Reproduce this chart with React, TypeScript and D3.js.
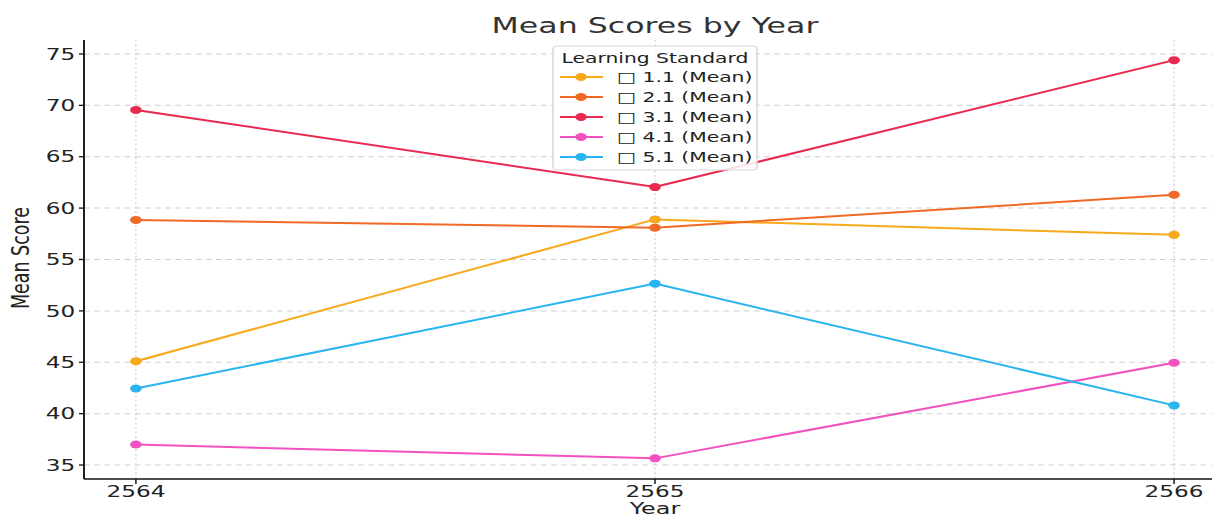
import React from 'react';
import * as d3 from 'd3';

// years on the x axis
const years = [2564, 2565, 2566];

const seriesNames = ['1.1', '2.1', '3.1', '4.1', '5.1'];
const seriesColors = ['#f7a81b', '#f06a25', '#e92a4f', '#f252c0', '#2bb5f0'];

// mean score per series, per year
const mean11 = [45.1, 58.9, 57.4];
const mean21 = [58.85, 58.1, 61.3];
const mean31 = [69.55, 62.05, 74.4];
const mean41 = [37.0, 35.65, 44.95];
const mean51 = [42.45, 52.65, 40.8];
const seriesValues = [mean11, mean21, mean31, mean41, mean51];

const yTicks = [35, 40, 45, 50, 55, 60, 65, 70, 75];

// the picture is horizontally stretched, so draw in a narrower space and stretch it
const SX = 1.45;
const W = 1212 / SX;
const H = 518;
const FONT = 'DejaVu Sans, sans-serif';

const App: React.FC = () => {
  const margin = { left: 84 / SX, top: 40, bottom: 479 };

  const x = d3.scaleLinear().domain([2563.9, 2566.1]).range([margin.left, 1226 / SX]);
  const y = d3.scaleLinear().domain([33.64, 76.36]).range([margin.bottom, margin.top]);

  const line = d3.line<number>()
    .x((d, i) => x(years[i]))
    .y(d => y(d));

  const legendX = 553 / SX;
  const legendW = (757 - 553) / SX;

  return (
    <div style={{ position: 'absolute', left: 0, top: 0 }}>
      <svg width={1212} height={H} viewBox={`0 0 ${W} ${H}`} preserveAspectRatio="none"
        style={{ display: 'block', background: '#fff' }} fontFamily={FONT}>
        {/* grid */}
        {yTicks.map(t => (
          <line key={'gy' + t} x1={margin.left} x2={W} y1={y(t)} y2={y(t)}
            stroke="#cfcfcf" strokeWidth={1} strokeDasharray="4,3" />
        ))}
        {years.map(t => (
          <line key={'gx' + t} x1={x(t)} x2={x(t)} y1={margin.top} y2={margin.bottom}
            stroke="#cfcfcf" strokeWidth={0.8} strokeDasharray="2,2.5" />
        ))}

        {/* series */}
        {seriesValues.map((vals, si) => (
          <g key={'s' + si}>
            <path d={line(vals) || ''} fill="none" stroke={seriesColors[si]} strokeWidth={2} />
            {vals.map((v, i) => (
              <circle key={i} cx={x(years[i])} cy={y(v)} r={4} fill={seriesColors[si]} />
            ))}
          </g>
        ))}

        {/* axes */}
        <line x1={margin.left} x2={margin.left} y1={margin.top} y2={margin.bottom} stroke="#111" strokeWidth={1.3} />
        <line x1={margin.left} x2={W} y1={margin.bottom} y2={margin.bottom} stroke="#111" strokeWidth={1.6} />
        {yTicks.map(t => (
          <g key={'ty' + t}>
            <line x1={margin.left - 3.5} x2={margin.left} y1={y(t)} y2={y(t)} stroke="#111" strokeWidth={1.3} />
            <text x={margin.left - 6} y={y(t)} dy="0.36em" textAnchor="end" fontSize={16} fill="#222">{t}</text>
          </g>
        ))}
        {years.map(t => (
          <g key={'tx' + t}>
            <line x1={x(t)} x2={x(t)} y1={margin.bottom} y2={margin.bottom + 5} stroke="#111" strokeWidth={1} />
            <text x={x(t)} y={margin.bottom + 18} textAnchor="middle" fontSize={16} fill="#222">{t}</text>
          </g>
        ))}

        {/* labels */}
        <text x={655 / SX} y={33} textAnchor="middle" fontSize={21.8} fill="#333">Mean Scores by Year</text>
        <text x={655 / SX} y={514.5} textAnchor="middle" fontSize={16.5} fill="#222">Year</text>
        <text transform={`translate(${29 / SX},${258}) rotate(-90)`} textAnchor="middle" fontSize={17.5} fill="#222">Mean Score</text>

        {/* legend */}
        <rect x={legendX} y={46} width={legendW} height={124} rx={3}
          fill="#fff" fillOpacity={0.85} stroke="#d6d6d6" strokeWidth={1} />
        <text x={legendX + legendW / 2} y={63} textAnchor="middle" fontSize={14} fill="#222">Learning Standard</text>
        {seriesNames.map((name, i) => {
          const cy = 77 + i * 20;
          return (
            <g key={'lg' + name}>
              <line x1={560 / SX} x2={603 / SX} y1={cy} y2={cy} stroke={seriesColors[i]} strokeWidth={2} />
              <circle cx={581 / SX} cy={cy} r={4} fill={seriesColors[i]} />
              <text x={617 / SX} y={cy} dy="0.36em" fontSize={14} fill="#222">{'\u25A1 ' + name + ' (Mean)'}</text>
            </g>
          );
        })}
      </svg>
    </div>
  );
};

export default App;
